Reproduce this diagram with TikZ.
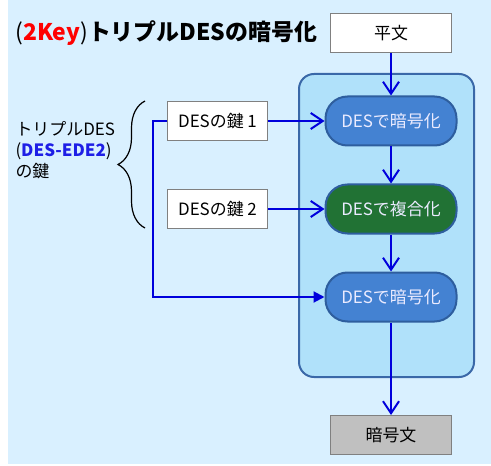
\documentclass[tikz,border=0pt]{standalone}
\usepackage{fontspec}
\setmainfont{Noto Sans CJK JP}
\usepackage{xcolor}
\usepackage{tikz}
\usetikzlibrary{positioning,arrows.meta,decorations.pathreplacing}

\definecolor{bgBlue}{RGB}{217,240,255}
\definecolor{coreFill}{RGB}{176,225,250}
\definecolor{coreLine}{RGB}{58,104,168}
\definecolor{encFill}{RGB}{68,130,210}
\definecolor{decFill}{RGB}{33,114,52}
\definecolor{procLine}{RGB}{46,94,158}
\definecolor{boxGray}{RGB}{128,128,128}
\definecolor{cipherGray}{RGB}{192,192,192}
\definecolor{lineBlue}{RGB}{0,0,220}
\definecolor{textBlue}{RGB}{30,30,230}

\begin{document}
\begin{tikzpicture}[
  x=1bp, y=-1bp,
  font=\fontsize{17}{21}\selectfont, >=Stealth,
  plainBox/.style={draw=boxGray, line width=1bp, fill=white,
               minimum width=121bp, minimum height=39bp, inner sep=0pt},
  keyBox/.style={plainBox, minimum width=100bp},
  procBox/.style={draw=procLine, line width=2bp, rounded corners=22bp,
               minimum width=131bp, minimum height=49bp, inner sep=0pt,
               text=white!92!blue},
  arr/.style={-{Straight Barb[length=12bp, width=16bp]}, color=lineBlue, line width=2bp},
  arrFill/.style={-{Triangle[length=11bp, width=11bp]}, color=lineBlue, line width=2bp},
]
\useasboundingbox (0,0) rectangle (491,466);
\fill[bgBlue] (8,0) rectangle (491,464);

\node[anchor=west, font=\fontsize{23}{27}\selectfont] (title) at (12,33)
  {(\textcolor{red}{\bfseries 2Key})\textbf{トリプルDESの暗号化}};

\node[draw=coreLine, line width=2bp, fill=coreFill, rounded corners=15bp,
      minimum width=175bp, minimum height=303bp] (core) at (386.5,225.5) {};

\node[plainBox] (plain) at (391,33) {平文};
\node[procBox, fill=encFill] (enc1) at (391,121) {DESで暗号化};
\node[procBox, fill=decFill] (dec)  at (391,209) {DESで複合化};
\node[procBox, fill=encFill] (enc2) at (391,297) {DESで暗号化};
\node[plainBox, fill=cipherGray] (cipher) at (391,435) {暗号文};

\node[keyBox] (key1) at (217.5,121) {DESの鍵 1};
\node[keyBox] (key2) at (217.5,209) {DESの鍵 2};

\node[anchor=west, align=left] (keyLbl) at (12,150)
  {トリプルDES\\(\textcolor{textBlue}{\bfseries DES-EDE2})\\の鍵};
\draw[decorate, decoration={brace, amplitude=27bp}, line width=1.2bp]
  (145,228) -- (145,101);

\coordinate (bend) at (153,121);

\draw[arr] (plain) -- (enc1);
\draw[arr] (enc1) -- (dec);
\draw[arr] (dec) -- (enc2);
\draw[arr] (enc2) -- (cipher);
\draw[arr] (key1) -- (enc1);
\draw[arr] (key2) -- (dec);
\draw[arrFill] (key1.west) -- (bend) |- (enc2.west);
\end{tikzpicture}
\end{document}
